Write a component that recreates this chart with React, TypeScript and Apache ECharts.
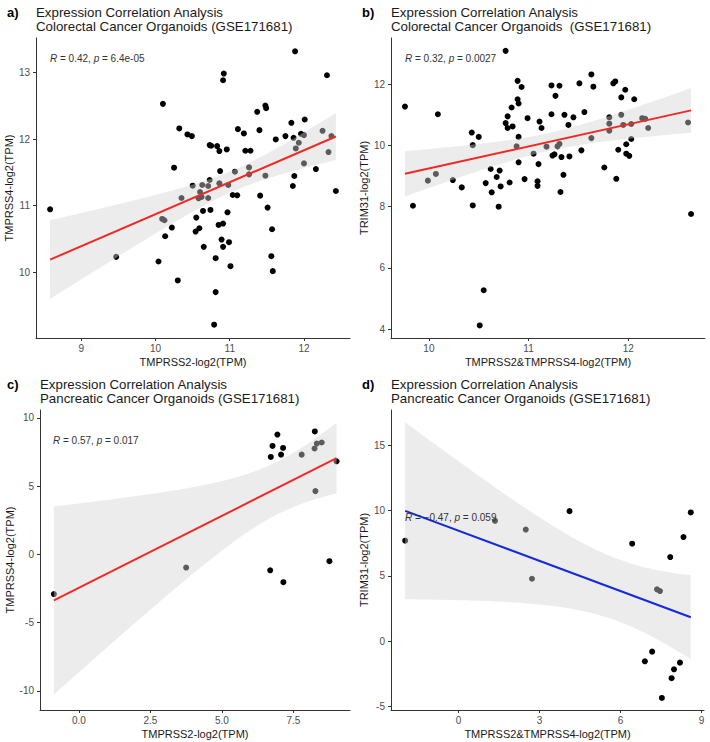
import React, { useEffect, useRef } from "react";
import * as echarts from "echarts";

// ---------- data ----------
const aX = [11.88,10.92,10.91,12.31,10.10,11.48,11.49,11.37,10.32,10.43,10.49,10.73,10.75,10.83,10.86,10.96,11.11,11.19,11.40,11.21,11.28,11.62,11.75,11.83,11.86,11.96,12.01,10.25,10.87,12.16,11.87,12.43,11.85,11.41,11.04,11.10,
  12.25,12.37,12.00,11.93,11.89,12.33,12.00,11.26,11.26,11.07,11.48,10.73,10.86,10.98,10.50,10.63,10.71,10.60,10.35,10.71,10.62,10.58,
  8.58,9.47,10.09,10.12,10.22,10.13,10.04,10.30,10.55,10.59,10.54,10.64,10.74,10.65,10.97,10.85,10.91,10.89,10.91,10.99,10.81,11.01,10.81,10.79,11.51,11.57,11.56,11.58];
const aY = [13.32,12.985,12.885,12.96,12.53,12.505,12.465,12.41,12.16,12.07,12.045,11.91,11.90,11.895,11.82,11.845,12.15,12.085,12.135,11.825,11.825,11.995,12.045,12.245,12.02,12.08,12.295,11.57,11.52,11.55,11.445,11.22,11.295,11.15,11.16,11.155,
  12.125,12.045,12.06,11.945,11.86,11.805,11.635,11.575,11.47,11.51,11.45,11.385,11.335,11.31,11.30,11.31,11.295,11.205,11.115,11.115,11.13,11.11,
  10.945,10.23,10.80,10.78,10.67,10.54,10.16,9.875,10.82,10.66,10.61,10.92,10.935,10.38,10.90,10.71,10.73,10.49,10.38,10.45,10.21,10.09,9.70,9.21,10.97,10.645,10.24,10.015];

const bX = [10.77,9.76,10.09,10.43,10.50,10.44,9.99,10.07,10.24,10.33,10.89,10.93,10.89,10.90,10.83,10.79,10.77,10.79,10.84,10.99,10.90,10.88,10.90,11.05,11.10,11.11,11.13,10.96,11.09,11.09,10.62,10.71,10.68,10.57,10.72,10.63,10.81,11.18,11.23,11.31,11.27,11.23,11.36,11.40,11.45,11.29,11.31,11.24,11.26,11.33,11.41,11.35,11.32,11.51,11.63,11.65,11.56,11.53,11.63,11.76,11.85,11.87,11.81,11.81,11.81,11.93,11.95,12.03,11.93,11.97,12.06,11.98,11.90,11.98,12.01,12.03,11.88,12.14,12.17,12.20,12.60,
  9.84,10.44,10.70,10.55,10.51,12.63];
const bY = [13.09,11.27,11.02,10.42,10.28,10.01,8.85,9.07,8.87,8.63,12.11,11.91,11.51,11.37,11.24,10.95,10.73,10.57,10.62,10.89,10.28,9.97,9.45,9.73,9.39,10.78,10.57,8.90,8.83,8.68,9.23,9.18,8.97,8.77,8.66,8.47,8.79,9.96,11.96,11.95,11.62,11.02,11.00,10.67,10.92,9.97,10.05,9.67,9.71,9.62,9.64,9.04,8.48,12.03,12.32,11.92,11.09,9.84,10.24,9.28,12.03,12.09,10.92,10.71,10.48,11.00,10.67,10.70,11.57,11.82,11.51,10.04,9.86,9.73,9.66,10.21,8.91,10.89,10.87,10.57,10.75,
  8.03,8.04,8.00,5.27,4.12,7.76];

const cX = [6.94,6.77,6.71,7.14,7.07,7.79,8.25,8.24,8.32,8.49,9.01,8.27,8.76,3.75,6.69,7.15,-0.875];
const cY = [8.77,7.94,7.13,7.79,7.30,7.30,9.00,7.75,8.11,8.19,6.81,4.63,-0.50,-0.97,-1.17,-2.04,-2.91];

const dX = [-1.975,1.35,2.49,4.11,6.43,7.84,8.33,8.60,2.72,7.35,7.46,7.17,6.90,8.20,7.98,7.89,7.53];
const dY = [7.69,9.21,8.54,9.95,7.46,6.44,7.97,9.85,4.78,3.97,3.84,-0.79,-1.53,-1.63,-2.14,-2.82,-4.33];

const aTicksX = [9, 10, 11, 12];
const aTicksY = [10, 11, 12, 13];
const bTicksX = [10, 11, 12];
const bTicksY = [4, 6, 8, 10, 12];
const cTicksX = [0, 2.5, 5, 7.5];
const cTicksY = [-10, -5, 0, 5, 10];
const dTicksX = [0, 3, 6, 9];
const dTicksY = [-5, 0, 5, 10, 15];

const titleLine1 = "Expression Correlation Analysis";
const subTitles = [
  "Colorectal Cancer Organoids (GSE171681)",
  "Colorectal Cancer Organoids  (GSE171681)",
  "Pancreatic Cancer Organoids (GSE171681)",
  "Pancreatic Cancer Organoids (GSE171681)",
];
const panelTags = ["a)", "b)", "c)", "d)"];
const xNames = ["TMPRSS2-log2(TPM)", "TMPRSS2&TMPRSS4-log2(TPM)", "TMPRSS2-log2(TPM)", "TMPRSS2&TMPRSS4-log2(TPM)"];
const yNames = ["TMPRSS4-log2(TPM)", "TRIM31-log2(TPM)", "TMPRSS4-log2(TPM)", "TRIM31-log2(TPM)"];
const rValues = ["0.42", "0.32", "0.57", "\u22120.47"];
const pValues = ["6.4e-05", "0.0027", "0.017", "0.059"];

// ---------- stats ----------
function tQuant(df: number) {
  const z = 1.959964;
  return (
    z +
    (z ** 3 + z) / (4 * df) +
    (5 * z ** 5 + 16 * z ** 3 + 3 * z) / (96 * df ** 2) +
    (3 * z ** 7 + 19 * z ** 5 + 17 * z ** 3 - 15 * z) / (384 * df ** 3)
  );
}

function fit(xs: number[], ys: number[]) {
  const n = xs.length;
  const mx = xs.reduce((s, v) => s + v, 0) / n;
  const my = ys.reduce((s, v) => s + v, 0) / n;
  let sxx = 0, sxy = 0;
  for (let i = 0; i < n; i++) {
    sxx += (xs[i] - mx) ** 2;
    sxy += (xs[i] - mx) * (ys[i] - my);
  }
  const b = sxy / sxx;
  const a = my - b * mx;
  let sse = 0;
  for (let i = 0; i < n; i++) sse += (ys[i] - a - b * xs[i]) ** 2;
  const s = Math.sqrt(sse / (n - 2));
  const t = tQuant(n - 2);
  const x0 = Math.min(...xs), x1 = Math.max(...xs);
  const up: number[][] = [], lo: number[][] = [];
  const K = 80;
  for (let k = 0; k < K; k++) {
    const x = x0 + ((x1 - x0) * k) / (K - 1);
    const yh = a + b * x;
    const se = s * Math.sqrt(1 / n + (x - mx) ** 2 / sxx);
    up.push([x, yh + t * se]);
    lo.push([x, yh - t * se]);
  }
  return { line: [[x0, a + b * x0], [x1, a + b * x1]], up, lo };
}

const FONT = "'Liberation Sans', Arial, Helvetica, sans-serif";

const panels = [
  { xs: aX, ys: aY, grid: { left: 36, top: 38, width: 314, height: 300 }, xr: [8.39, 12.62], yr: [9.01, 13.52], tx: aTicksX, ty: aTicksY, fx: (v: number) => String(v), color: "#ee2a24", yGap: 21, ann: [50, 58.5], tag: [7, 12], tt: 36 },
  { xs: bX, ys: bY, grid: { left: 391, top: 38, width: 314, height: 300 }, xr: [9.62, 12.77], yr: [3.71, 13.51], tx: bTicksX, ty: bTicksY, fx: (v: number) => String(v), color: "#ee2a24", yGap: 21, ann: [405, 58.5], tag: [362, 12], tt: 391 },
  { xs: cX, ys: cY, grid: { left: 40, top: 410, width: 310, height: 300 }, xr: [-1.36, 9.48], yr: [-11.4, 10.57], tx: cTicksX, ty: cTicksY, fx: (v: number) => v.toFixed(1), color: "#ee2a24", yGap: 25, ann: [53, 440], tag: [7, 384], tt: 40 },
  { xs: dX, ys: dY, grid: { left: 391, top: 410, width: 313, height: 300 }, xr: [-2.5, 9.09], yr: [-5.25, 17.68], tx: dTicksX, ty: dTicksY, fx: (v: number) => String(v), color: "#1428e0", yGap: 21, ann: [405, 517], tag: [362, 384], tt: 391 },
];

export default function App() {
  const ref = useRef<HTMLDivElement>(null);
  useEffect(() => {
    document.body.style.margin = "0";
    const chart = echarts.init(ref.current!, null, { renderer: "svg" });
    const axisLine = { show: true, onZero: false, lineStyle: { color: "#333333", width: 1 } };
    const grids: any[] = [], xAxes: any[] = [], yAxes: any[] = [], series: any[] = [], graphics: any[] = [];
    panels.forEach((p, i) => {
      const f = fit(p.xs, p.ys);
      grids.push({ ...p.grid, containLabel: false });
      xAxes.push({
        type: "value", gridIndex: i, min: p.xr[0], max: p.xr[1],
        axisLine, splitLine: { show: false },
        axisTick: { show: true, length: 3, customValues: p.tx, lineStyle: { color: "#333333" } },
        axisLabel: { customValues: p.tx, formatter: p.fx, color: "#4d4d4d", fontSize: 10, margin: 5, fontFamily: FONT },
        name: xNames[i], nameLocation: "middle", nameGap: 18,
        nameTextStyle: { fontSize: 11, color: "#1a1a1a", fontFamily: FONT },
      });
      yAxes.push({
        type: "value", gridIndex: i, min: p.yr[0], max: p.yr[1],
        axisLine, splitLine: { show: false },
        axisTick: { show: true, length: 3, customValues: p.ty, lineStyle: { color: "#333333" } },
        axisLabel: { customValues: p.ty, color: "#4d4d4d", fontSize: 10, margin: 6, fontFamily: FONT },
        name: yNames[i], nameLocation: "middle", nameGap: p.yGap,
        nameTextStyle: { fontSize: 11, color: "#1a1a1a", fontFamily: FONT },
      });
      series.push({
        type: "scatter", xAxisIndex: i, yAxisIndex: i, z: 2,
        data: p.xs.map((x, k) => [x, p.ys[k]]),
        symbolSize: 6, itemStyle: { color: "#000000", opacity: 1 },
      });
      series.push({
        type: "custom", xAxisIndex: i, yAxisIndex: i, z: 3, silent: true,
        data: [[f.up[0][0], f.up[0][1]]],
        renderItem: (params: any, api: any) => {
          const pts = f.up.map((q) => api.coord(q)).concat(f.lo.slice().reverse().map((q) => api.coord(q)));
          return { type: "polygon", shape: { points: pts }, style: { fill: "rgba(211,211,211,0.43)" } };
        },
      });
      series.push({
        type: "line", xAxisIndex: i, yAxisIndex: i, z: 4, silent: true,
        data: f.line, showSymbol: false, symbol: "none",
        lineStyle: { color: p.color, width: 2 },
      });
      graphics.push({
        type: "text", x: p.tag[0], y: p.tag[1],
        style: { text: panelTags[i], fontSize: 13, fontWeight: "bold", fill: "#000", fontFamily: FONT, verticalAlign: "middle" },
      });
      graphics.push({
        type: "text", x: p.tt, y: p.tag[1],
        style: { text: titleLine1, fontSize: 13.3, fill: "#1a1a1a", fontFamily: FONT, verticalAlign: "middle" },
      });
      graphics.push({
        type: "text", x: p.tt, y: p.tag[1] + 14.5,
        style: { text: subTitles[i], fontSize: 13.3, fill: "#1a1a1a", fontFamily: FONT, verticalAlign: "middle" },
      });
      graphics.push({
        type: "text", x: p.ann[0], y: p.ann[1], z: 10,
        style: {
          text: `{i|R} = ${rValues[i]}, {i|p} = ${pValues[i]}`,
          rich: { i: { fontStyle: "italic", fontSize: 10, fill: "#333333", fontFamily: FONT } },
          fontSize: 10, fill: "#333333", fontFamily: FONT, verticalAlign: "middle",
        },
      });
    });
    chart.setOption({
      animation: false,
      backgroundColor: "#ffffff",
      grid: grids, xAxis: xAxes, yAxis: yAxes, series, graphic: graphics,
    });
    return () => chart.dispose();
  }, []);
  return <div ref={ref} style={{ width: 710, height: 742 }} />;
}
